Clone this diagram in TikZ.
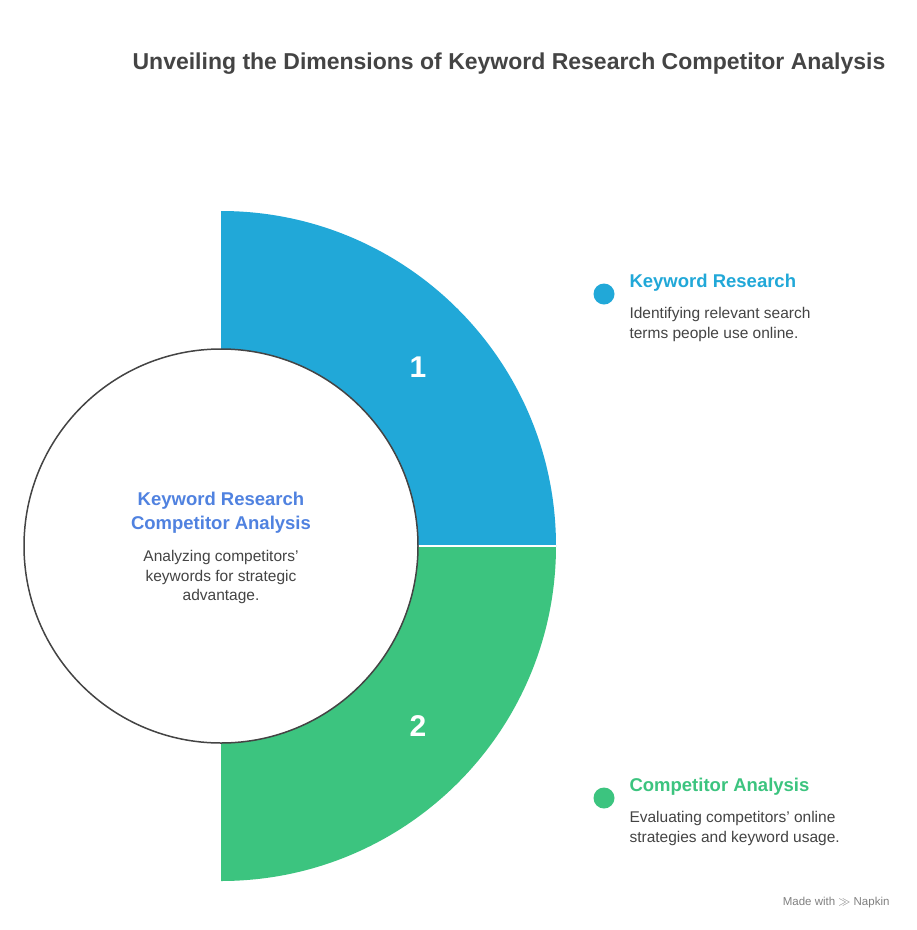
\documentclass[tikz,border=0pt]{standalone}
\usepackage{fontspec}
\setmainfont{Liberation Sans}
\definecolor{kblue}{HTML}{21A8D8}
\definecolor{kgreen}{HTML}{3CC47F}
\definecolor{ctitle}{HTML}{5082E0}
\definecolor{dgray}{HTML}{444444}
\begin{document}
\begin{tikzpicture}[x=1pt,y=-1pt,
  head/.style={font=\bfseries\fontsize{18.5}{22}\selectfont,anchor=west},
  body/.style={font=\fontsize{15.5}{19.5}\selectfont,text=dgray,anchor=north west,align=left},
  num/.style={font=\bfseries\fontsize{30}{34}\selectfont,text=white}]
\useasboundingbox (0,0) rectangle (917,930);
\fill[white] (0,0) rectangle (917,930);
\node[font=\bfseries\fontsize{23}{27}\selectfont,text=dgray] (title) at (509,64) {Unveiling the Dimensions of Keyword Research Competitor Analysis};
% segments
\fill[kblue] (221,211) arc[start angle=90,end angle=0,x radius=335,y radius=-335] -- (418,546) arc[start angle=0,end angle=90,x radius=197,y radius=-197] -- cycle;
\fill[kgreen] (556,546) arc[start angle=0,end angle=-90,x radius=335,y radius=-335] -- (221,743) arc[start angle=-90,end angle=0,x radius=197,y radius=-197] -- cycle;
\draw[white,line width=1.5pt] (418,546) -- (556,546);
\node[circle,draw=dgray,line width=1.5pt,fill=white,minimum size=394pt,inner sep=0pt] (c) at (221,546) {};
\node[num] (n1) at (418,367) {1};
\node[num] (n2) at (418,726) {2};
\node[font=\bfseries\fontsize{18.5}{24}\selectfont,text=ctitle,align=center] (ct) at (221,513) {Keyword Research\\Competitor Analysis};
\node[font=\fontsize{15.5}{19.5}\selectfont,text=dgray,align=center] (cb) at (221,577) {Analyzing competitors'\\keywords for strategic\\advantage.};
% legend
\node[circle,fill=kblue,minimum size=21pt,inner sep=0pt] (d1) at (604,294) {};
\node[head,text=kblue] (h1) at (626,283) {Keyword Research};
\node[body] (b1) at (626,304) {Identifying relevant search\\terms people use online.};
\node[circle,fill=kgreen,minimum size=21pt,inner sep=0pt] (d2) at (604,798) {};
\node[head,text=kgreen] (h2) at (626,787) {Competitor Analysis};
\node[body] (b2) at (626,808) {Evaluating competitors' online\\strategies and keyword usage.};
\node[font=\fontsize{11.5}{13}\selectfont,text=gray,anchor=east] (mw) at (893,903) {Made with $\gg$ Napkin};
\end{tikzpicture}
\end{document}
